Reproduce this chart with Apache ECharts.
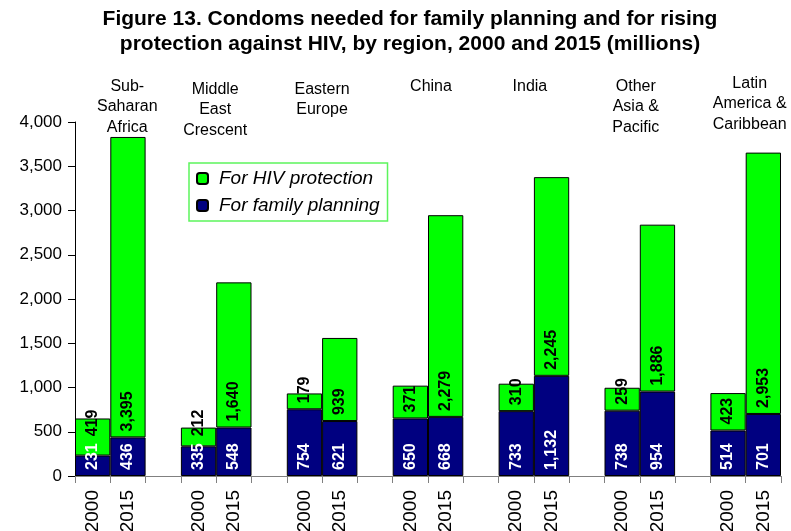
<!DOCTYPE html>
<html>
<head>
<meta charset="utf-8">
<script src="https://cdn.jsdelivr.net/npm/echarts@6/dist/echarts.min.js"></script>
<style>
  html, body { margin: 0; padding: 0; background: #fff; }
  #chart { width: 791px; height: 531px; }
</style>
</head>
<body>
<div id="chart"></div>
<script>
// Condoms needed, millions, by region and year
const regions = [
  'Sub-\nSaharan\nAfrica',
  'Middle\nEast\nCrescent',
  'Eastern\nEurope',
  'China',
  'India',
  'Other\nAsia &\nPacific',
  'Latin\nAmerica &\nCaribbean'
];
const years = ['2000', '2015'];
const planning2000 = [231, 335, 754, 650, 733, 738, 514];
const planning2015 = [436, 548, 621, 668, 1132, 954, 701];
const hiv2000 = [419, 212, 179, 371, 310, 259, 423];
const hiv2015 = [3395, 1640, 939, 2279, 2245, 1886, 2953];

const FONT = '"Liberation Sans", Arial, Helvetica, sans-serif';
const GREEN = '#00ff00';
const NAVY = '#000080';
const LABEL_SIZE = 16;
const LABEL_DISTANCE = 6;
const LABEL_GAP = 7;

// Placement of the region captions relative to the middle of each pair of bars
const regionCaptionLayout = [
  { dx: 17, top: 76 },
  { dx: -1, top: 79 },
  { dx: 0, top: 79 },
  { dx: 3, top: 76 },
  { dx: -4, top: 76 },
  { dx: -4, top: 76 },
  { dx: 4, top: 73 }
];

// Category axis: two year bars per region with an empty slot between regions
const categories = [];
const planningValues = [];
const hivValues = [];
const pairStart = [];
regions.forEach((r, i) => {
  if (i > 0) {
    categories.push('');
    planningValues.push(null);
    hivValues.push(null);
  }
  pairStart.push(categories.length);
  categories.push(years[0], years[1]);
  planningValues.push(planning2000[i], planning2015[i]);
  hivValues.push(hiv2000[i], hiv2015[i]);
});

const fmt = v => Number(v).toLocaleString('en-US');

const baseLabel = {
  show: true,
  rotate: 90,
  position: 'insideBottom',
  distance: LABEL_DISTANCE,
  align: 'left',
  verticalAlign: 'middle',
  fontFamily: FONT,
  fontWeight: 'bold',
  fontSize: LABEL_SIZE,
  formatter: p => fmt(p.value)
};

const chart = echarts.init(document.getElementById('chart'), null, { renderer: 'canvas' });

const option = {
  animation: false,
  backgroundColor: '#fff',
  grid: { left: 75, right: 10, top: 122, bottom: 55, containLabel: false, outerBoundsMode: 'none' },
  legend: {
    orient: 'vertical',
    left: 189,
    top: 163,
    data: ['For HIV protection', 'For family planning'],
    itemWidth: 11,
    itemHeight: 11,
    itemGap: 8,
    padding: [6, 8, 6, 7],
    borderColor: '#5cf55c',
    borderWidth: 1.5,
    selectedMode: false,
    textStyle: {
      fontFamily: FONT,
      fontStyle: 'italic',
      fontSize: 19,
      color: '#000',
      padding: [0, 0, 0, 6]
    }
  },
  xAxis: {
    type: 'category',
    data: categories,
    axisLine: { show: true, lineStyle: { color: '#808080', width: 1 } },
    axisTick: { show: true, interval: 0, length: 7, lineStyle: { color: '#808080' } },
    axisLabel: {
      interval: 0,
      rotate: 90,
      margin: 14,
      fontFamily: FONT,
      fontSize: 19,
      color: '#000'
    },
    splitLine: { show: false }
  },
  yAxis: {
    type: 'value',
    min: 0,
    max: 4000,
    interval: 500,
    axisLine: { show: true, lineStyle: { color: '#000', width: 1 } },
    axisTick: { show: true, length: 7, lineStyle: { color: '#000' } },
    axisLabel: {
      margin: 13,
      fontFamily: FONT,
      fontSize: 17,
      color: '#000',
      formatter: v => fmt(v)
    },
    splitLine: { show: false }
  },
  series: [
    {
      name: 'For family planning',
      type: 'bar',
      stack: 'total',
      barCategoryGap: 0,
      data: planningValues,
      itemStyle: { color: NAVY, borderColor: '#000', borderWidth: 1 },
      label: Object.assign({}, baseLabel, { color: '#fff' })
    },
    {
      name: 'For HIV protection',
      type: 'bar',
      stack: 'total',
      barCategoryGap: 0,
      data: hivValues,
      itemStyle: { color: GREEN, borderColor: '#000', borderWidth: 1 },
      label: Object.assign({}, baseLabel, { color: '#000' })
    }
  ]
};

chart.setOption(option);

// HIV labels start at the base of their segment, pushed up when the
// family-planning label below runs into the segment
const ctx = document.createElement('canvas').getContext('2d');
ctx.font = 'bold ' + LABEL_SIZE + 'px ' + FONT;
const yPx = v => chart.convertToPixel({ yAxisIndex: 0 }, v);
const zeroPx = yPx(0);
const hivData = hivValues.map((v, i) => {
  if (v == null) return null;
  const base = planningValues[i];
  const basePx = yPx(base);
  const fpTop = zeroPx - LABEL_DISTANCE - ctx.measureText(fmt(base)).width;
  const distance = Math.max(LABEL_DISTANCE, basePx - fpTop + LABEL_GAP);
  if (distance === LABEL_DISTANCE) return v;
  return { value: v, label: { distance: distance } };
});

// Region captions above each pair of bars, and the two-line figure title
const captions = regions.map((name, i) => {
  const a = chart.convertToPixel({ xAxisIndex: 0 }, pairStart[i]);
  const b = chart.convertToPixel({ xAxisIndex: 0 }, pairStart[i] + 1);
  const lay = regionCaptionLayout[i];
  return {
    type: 'text',
    x: (a + b) / 2 + lay.dx,
    y: lay.top,
    style: {
      text: name,
      fill: '#000',
      font: '16px ' + FONT,
      align: 'center',
      textAlign: 'center',
      verticalAlign: 'top',
      textVerticalAlign: 'top',
      lineHeight: 20.5
    }
  };
});

captions.push({
  type: 'text',
  x: 410,
  y: 7,
  style: {
    text: 'Figure 13. Condoms needed for family planning and for rising\nprotection against HIV, by region, 2000 and 2015 (millions)',
    fill: '#000',
    font: 'bold 21px ' + FONT,
    align: 'center',
    textAlign: 'center',
    verticalAlign: 'top',
    textVerticalAlign: 'top',
    lineHeight: 25
  }
});

chart.setOption({
  series: [{}, { data: hivData }],
  graphic: captions
});
</script>
</body>
</html>
